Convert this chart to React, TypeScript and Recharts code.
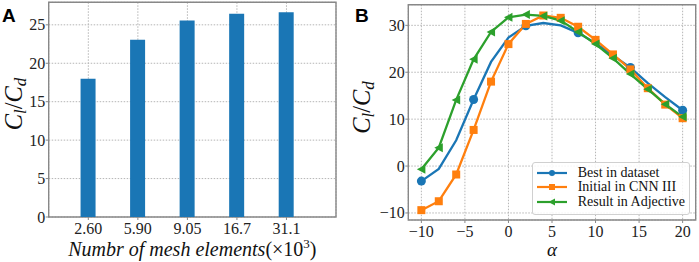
import React from "react"
import {
  BarChart,
  Bar,
  LineChart,
  Line,
  XAxis,
  YAxis,
  CartesianGrid,
  ReferenceArea,
  Legend,
} from "recharts"

// panel A: mesh study
const meshLabels = ["2.60", "5.90", "9.05", "16.7", "31.1"]
const meshRatio = [18.0, 23.05, 25.55, 26.45, 26.65]

// panel B: Cl/Cd vs alpha
const alphas = [-10, -8, -6, -4, -2, 0, 2, 4, 6, 8, 10, 12, 14, 16, 18, 20]
const bestInDataset = [-3.2, -0.6, 5.5, 14.2, 22.2, 27.4, 29.9, 30.5, 30.0, 28.4, 26.2, 23.6, 21.0, 17.7, 14.7, 11.9]
const initialCnn = [-9.4, -7.5, -1.8, 7.7, 18.0, 26.0, 30.3, 32.1, 31.6, 29.7, 26.9, 23.8, 20.6, 16.6, 13.1, 10.2]
const resultAdjective = [-0.7, 3.9, 14.1, 22.75, 28.6, 31.7, 32.3, 32.0, 31.0, 28.6, 26.0, 23.0, 19.6, 16.4, 13.2, 10.5]

const seriesNames = ["Best in dataset", "Initial in CNN III", "Result in Adjective"]
const colors = ["#1a76b5", "#ff7f0e", "#2ca02c"]

const meshData = meshLabels.map((label, i) => ({ idx: i, label, ratio: meshRatio[i] }))
const alphaData = alphas.map((a, i) => ({
  alpha: a,
  best: bestInDataset[i],
  initial: initialCnn[i],
  result: resultAdjective[i],
}))

const serif = "Liberation Serif"
const frame = "#888"
const gridStroke = "#b5b5b5"
const tickFont = 16
const minus = (v: number) => String(v).replace("-", "\u2212")

// tick renderers so the serif font sticks
function makeXTick(fmt: (v: number) => string) {
  return (p: any) => (
    <text x={p.x} y={p.y + 11.5} textAnchor="middle" fontFamily={serif} fontSize={tickFont} fill="#222">
      {fmt(p.payload.value)}
    </text>
  )
}
function makeYTick(fmt: (v: number) => string) {
  return (p: any) => (
    <text x={p.x + 1.5} y={p.y + 5.5} textAnchor="end" fontFamily={serif} fontSize={tickFont} fill="#222">
      {fmt(p.payload.value)}
    </text>
  )
}

function YLabel({ x, y }: { x: number; y: number }) {
  return (
    <text
      x={x}
      y={y}
      transform={`rotate(-90, ${x}, ${y})`}
      textAnchor="middle"
      fontFamily={serif}
      fontSize={24.5}
      fill="#111"
    >
      <tspan fontStyle="italic">C</tspan>
      <tspan fontStyle="italic" fontSize={17} dy={4}>l</tspan>
      <tspan dy={-4}>/</tspan>
      <tspan fontStyle="italic">C</tspan>
      <tspan fontStyle="italic" fontSize={17} dy={4}>d</tspan>
    </text>
  )
}

function Circle(props: any) {
  const { cx, cy, index } = props
  if (index % 3 !== 0) return <g key={`b-${index}`} />
  return <circle key={`b-${index}`} cx={cx} cy={cy} r={4.5} fill={colors[0]} />
}

function Square(props: any) {
  const { cx, cy, index } = props
  return <rect key={`o-${index}`} x={cx - 4} y={cy - 4} width={8} height={8} fill={colors[1]} />
}

function Triangle(props: any) {
  const { cx, cy, index } = props
  return (
    <polygon
      key={`g-${index}`}
      points={`${cx - 4.5},${cy} ${cx + 4},${cy - 4.5} ${cx + 4},${cy + 4.5}`}
      fill={colors[2]}
    />
  )
}

function LegendBox() {
  const icons = [
    <circle cx={15} cy={5} r={3} fill={colors[0]} />,
    <rect x={12} y={2} width={6} height={6} fill={colors[1]} />,
    <polygon points="11.5,5 18,1.5 18,8.5" fill={colors[2]} />,
  ]
  return (
    <div
      style={{
        border: "1px solid #d0d0d0",
        borderRadius: 3,
        background: "rgba(255,255,255,0.85)",
        padding: "2px 0 5px 0",
        width: 158,
        boxSizing: "border-box",
      }}
    >
      {seriesNames.map((name, i) => (
        <div
          key={name}
          style={{
            display: "flex",
            alignItems: "center",
            height: 14.5,
            fontFamily: serif,
            fontSize: 14,
            color: "#111",
            whiteSpace: "nowrap",
          }}
        >
          <svg width={30} height={10} style={{ marginLeft: 4, marginRight: 11 }}>
            <line x1={0} y1={5} x2={30} y2={5} stroke={colors[i]} strokeWidth={2.2} />
            {icons[i]}
          </svg>
          <span>{name}</span>
        </div>
      ))}
    </div>
  )
}

const panelLetter: React.CSSProperties = {
  position: "absolute",
  top: 5,
  fontFamily: "'Liberation Sans', Arial, sans-serif",
  fontWeight: "bold",
  fontSize: 19,
  color: "#000",
}

function PanelA() {
  return (
    <div style={{ position: "absolute", left: 0, top: 0, width: 345, height: 262 }}>
      <BarChart width={345} height={262} data={meshData} margin={{ top: 2.3, right: 9, bottom: 0, left: 0 }}>
        <CartesianGrid stroke={gridStroke} strokeDasharray="1.5 1.5" />
        <XAxis
          dataKey="idx"
          type="number"
          domain={[-0.8, 5]}
          ticks={[0, 1, 2, 3, 4]}
          height={45}
          tick={makeXTick((i) => meshLabels[i])}
          tickSize={3}
          axisLine={false}
          tickLine={{ stroke: frame }}
          label={{
            content: (p: any) => {
              const vb = p.viewBox
              return (
                <text x={vb.x + vb.width / 2} y={255.5} textAnchor="middle" fontFamily={serif} fontSize={20} fill="#111">
                  <tspan fontStyle="italic">Numbr of mesh elements</tspan>
                  <tspan>(×10</tspan>
                  <tspan fontSize={13} dy={-8}>3</tspan>
                  <tspan dy={8}>)</tspan>
                </text>
              )
            },
          }}
        />
        <YAxis
          type="number"
          domain={[0, 27.93]}
          ticks={[0, 5, 10, 15, 20, 25]}
          width={48.7}
          tick={makeYTick((v) => String(v))}
          tickSize={3}
          axisLine={false}
          tickLine={{ stroke: frame }}
          label={{ content: () => <YLabel x={22} y={104} /> }}
        />
        <Bar dataKey="ratio" fill={colors[0]} barSize={15} isAnimationActive={false} />
        <ReferenceArea x1={-0.8} x2={5} y1={0} y2={27.93} fill="none" stroke={frame} strokeWidth={1.4} />
      </BarChart>
      <div style={{ ...panelLetter, left: 2 }}>A</div>
    </div>
  )
}

function PanelB() {
  return (
    <div style={{ position: "absolute", left: 345, top: 0, width: 354, height: 262 }}>
      <LineChart width={354} height={262} data={alphaData} margin={{ top: 4.7, right: 3.3, bottom: 0, left: 0 }}>
        <CartesianGrid stroke={gridStroke} strokeDasharray="1.5 1.5" />
        <XAxis
          dataKey="alpha"
          type="number"
          domain={[-11.5, 21.5]}
          ticks={[-10, -5, 0, 5, 10, 15, 20]}
          height={42}
          tick={makeXTick(minus)}
          tickSize={3}
          axisLine={false}
          tickLine={{ stroke: frame }}
          label={{
            content: (p: any) => {
              const vb = p.viewBox
              return (
                <text
                  x={vb.x + vb.width / 2}
                  y={255.5}
                  textAnchor="middle"
                  fontFamily={serif}
                  fontStyle="italic"
                  fontSize={19}
                  fill="#111"
                >
                  α
                </text>
              )
            },
          }}
        />
        <YAxis
          type="number"
          domain={[-11.5, 34.4]}
          ticks={[-10, 0, 10, 20, 30]}
          width={63.3}
          tick={makeYTick(minus)}
          tickSize={3}
          axisLine={false}
          tickLine={{ stroke: frame }}
          label={{ content: () => <YLabel x={24.5} y={107.5} /> }}
        />
        <Line dataKey="best" stroke={colors[0]} strokeWidth={2.3} dot={Circle} activeDot={false} isAnimationActive={false} />
        <Line dataKey="initial" stroke={colors[1]} strokeWidth={2.3} dot={Square} activeDot={false} isAnimationActive={false} />
        <Line dataKey="result" stroke={colors[2]} strokeWidth={2.3} dot={Triangle} activeDot={false} isAnimationActive={false} />
        <ReferenceArea x1={-11.5} x2={21.5} y1={-11.5} y2={34.4} fill="none" stroke={frame} strokeWidth={1.4} />
        <Legend
          layout="vertical"
          align="center"
          verticalAlign="middle"
          content={() => <LegendBox />}
          wrapperStyle={{ left: 186.7, top: 162.3, width: 158, height: 51 }}
        />
      </LineChart>
      <div style={{ ...panelLetter, left: 10 }}>B</div>
    </div>
  )
}

export default function App() {
  return (
    <div style={{ position: "absolute", left: 0, top: 0, width: 699, height: 262, background: "#fff" }}>
      <PanelA />
      <PanelB />
    </div>
  )
}
